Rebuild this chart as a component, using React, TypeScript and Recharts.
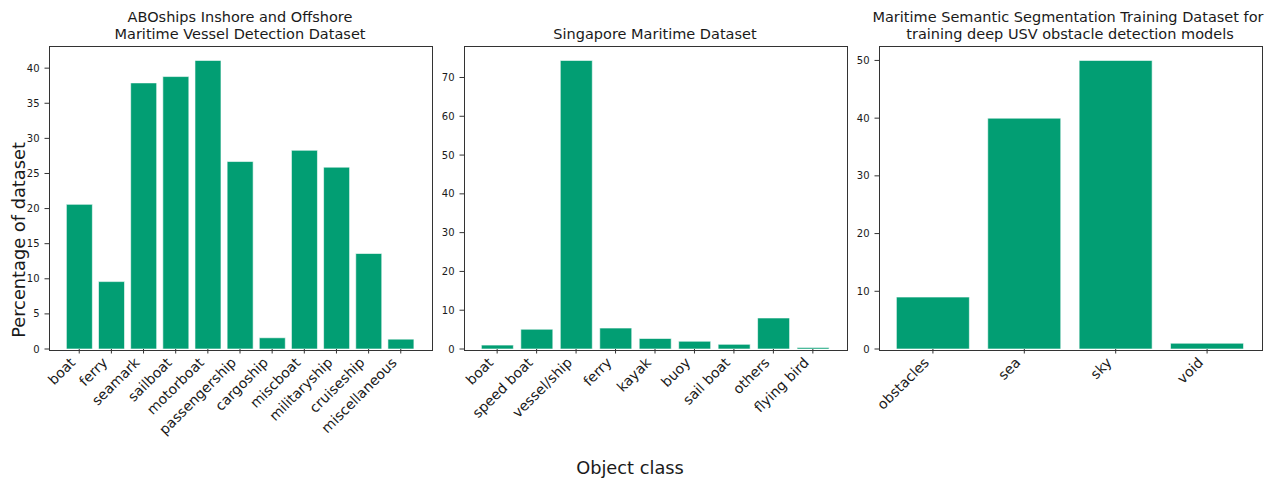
import React from 'react';
import { BarChart, Bar, XAxis, YAxis } from 'recharts';

const aboCategories = ['boat', 'ferry', 'seamark', 'sailboat', 'motorboat', 'passengership', 'cargoship', 'miscboat', 'militaryship', 'cruiseship', 'miscellaneous'];
const aboValues = [20.6, 9.6, 37.9, 38.8, 41.1, 26.7, 1.6, 28.3, 25.9, 13.6, 1.4];
const aboTicks = [0, 5, 10, 15, 20, 25, 30, 35, 40];

const smdCategories = ['boat', 'speed boat', 'vessel/ship', 'ferry', 'kayak', 'buoy', 'sail boat', 'others', 'flying bird'];
const smdValues = [1.0, 5.1, 74.4, 5.4, 2.7, 2.0, 1.2, 8.0, 0.4];
const smdTicks = [0, 10, 20, 30, 40, 50, 60, 70];

const mastrCategories = ['obstacles', 'sea', 'sky', 'void'];
const mastrValues = [9, 40, 50, 1];
const mastrTicks = [0, 10, 20, 30, 40, 50];

const FONT = 'DejaVu Sans, sans-serif';
const GREEN = '#029e73';
const INK = '#1a1a1a';
const PLOT_W = 382;
const PLOT_TOP = 46;
const PLOT_H = 303;
const Y_AXIS_W = 49;

function RotTick(props: any) {
  const { x, y, payload } = props;
  return (
    <text
      transform={`translate(${x - 3}, ${y + 5}) rotate(-45)`}
      textAnchor="end"
      fontSize={14}
      fontFamily={FONT}
      fill={INK}
    >
      {payload.value}
    </text>
  );
}

function Panel({ left, categories, values, yTicks }: { left: number; categories: string[]; values: number[]; yTicks: number[] }) {
  const data = categories.map((name, i) => ({ name, value: values[i] }));
  const n = categories.length;
  // matplotlib defaults: bar width 0.8, 5% x margins
  const unit = PLOT_W / ((n - 0.2) * 1.1);
  const pad = (0.05 * (n - 0.2) - 0.1) * unit;
  const yMax = Math.max(...values) * 1.05;
  const tickStroke = { stroke: '#333', strokeWidth: 1 };

  return (
    <div style={{ position: 'absolute', left: left - Y_AXIS_W, top: 0 }}>
      <BarChart
        width={PLOT_W + Y_AXIS_W + 10}
        height={479}
        data={data}
        margin={{ top: PLOT_TOP, right: 10, bottom: 0, left: 0 }}
        barCategoryGap="10%"
      >
        <XAxis
          dataKey="name"
          interval={0}
          padding={{ left: pad, right: pad }}
          height={479 - PLOT_TOP - PLOT_H}
          tick={<RotTick />}
          tickSize={4.5}
          tickMargin={5}
          tickLine={tickStroke}
          axisLine={false}
        />
        <YAxis
          width={Y_AXIS_W}
          domain={[0, yMax]}
          ticks={yTicks}
          interval={0}
          tick={{ fontSize: 10, fill: INK, fontFamily: FONT }}
          tickSize={4.5}
          tickMargin={5}
          tickLine={tickStroke}
          axisLine={false}
        />
        <Bar dataKey="value" fill={GREEN} stroke="#ffffff" strokeWidth={0.6} isAnimationActive={false} />
      </BarChart>
      {/* axes frame (all four spines) */}
      <div
        style={{
          position: 'absolute',
          left: Y_AXIS_W - 0.5,
          top: PLOT_TOP - 0.5,
          width: PLOT_W,
          height: PLOT_H,
          border: '1px solid #333',
          pointerEvents: 'none',
        }}
      />
    </div>
  );
}

export default function App() {
  return (
    <div style={{ position: 'absolute', left: 0, top: 0, width: 1274, height: 479, background: '#fff', fontFamily: FONT }}>
      <Panel left={49} categories={aboCategories} values={aboValues} yTicks={aboTicks} />
      <Panel left={464} categories={smdCategories} values={smdValues} yTicks={smdTicks} />
      <Panel left={879} categories={mastrCategories} values={mastrValues} yTicks={mastrTicks} />
      <svg width={1274} height={479} style={{ position: 'absolute', left: 0, top: 0, pointerEvents: 'none' }}>
        <g fontFamily={FONT} fill={INK} fontSize={14.5} textAnchor="middle">
          <text x={240} y={22}>ABOships Inshore and Offshore</text>
          <text x={240} y={38.5}>Maritime Vessel Detection Dataset</text>
          <text x={655} y={38.5}>Singapore Maritime Dataset</text>
          <text x={1068} y={22}>Maritime Semantic Segmentation Training Dataset for</text>
          <text x={1070} y={38.5}>training deep USV obstacle detection models</text>
        </g>
        <text x={25} y={240} transform="rotate(-90 25 240)" textAnchor="middle" fontSize={17.8} fontFamily={FONT} fill={INK}>
          Percentage of dataset
        </text>
        <text x={630} y={474} textAnchor="middle" fontSize={17.8} fontFamily={FONT} fill={INK}>
          Object class
        </text>
      </svg>
    </div>
  );
}
